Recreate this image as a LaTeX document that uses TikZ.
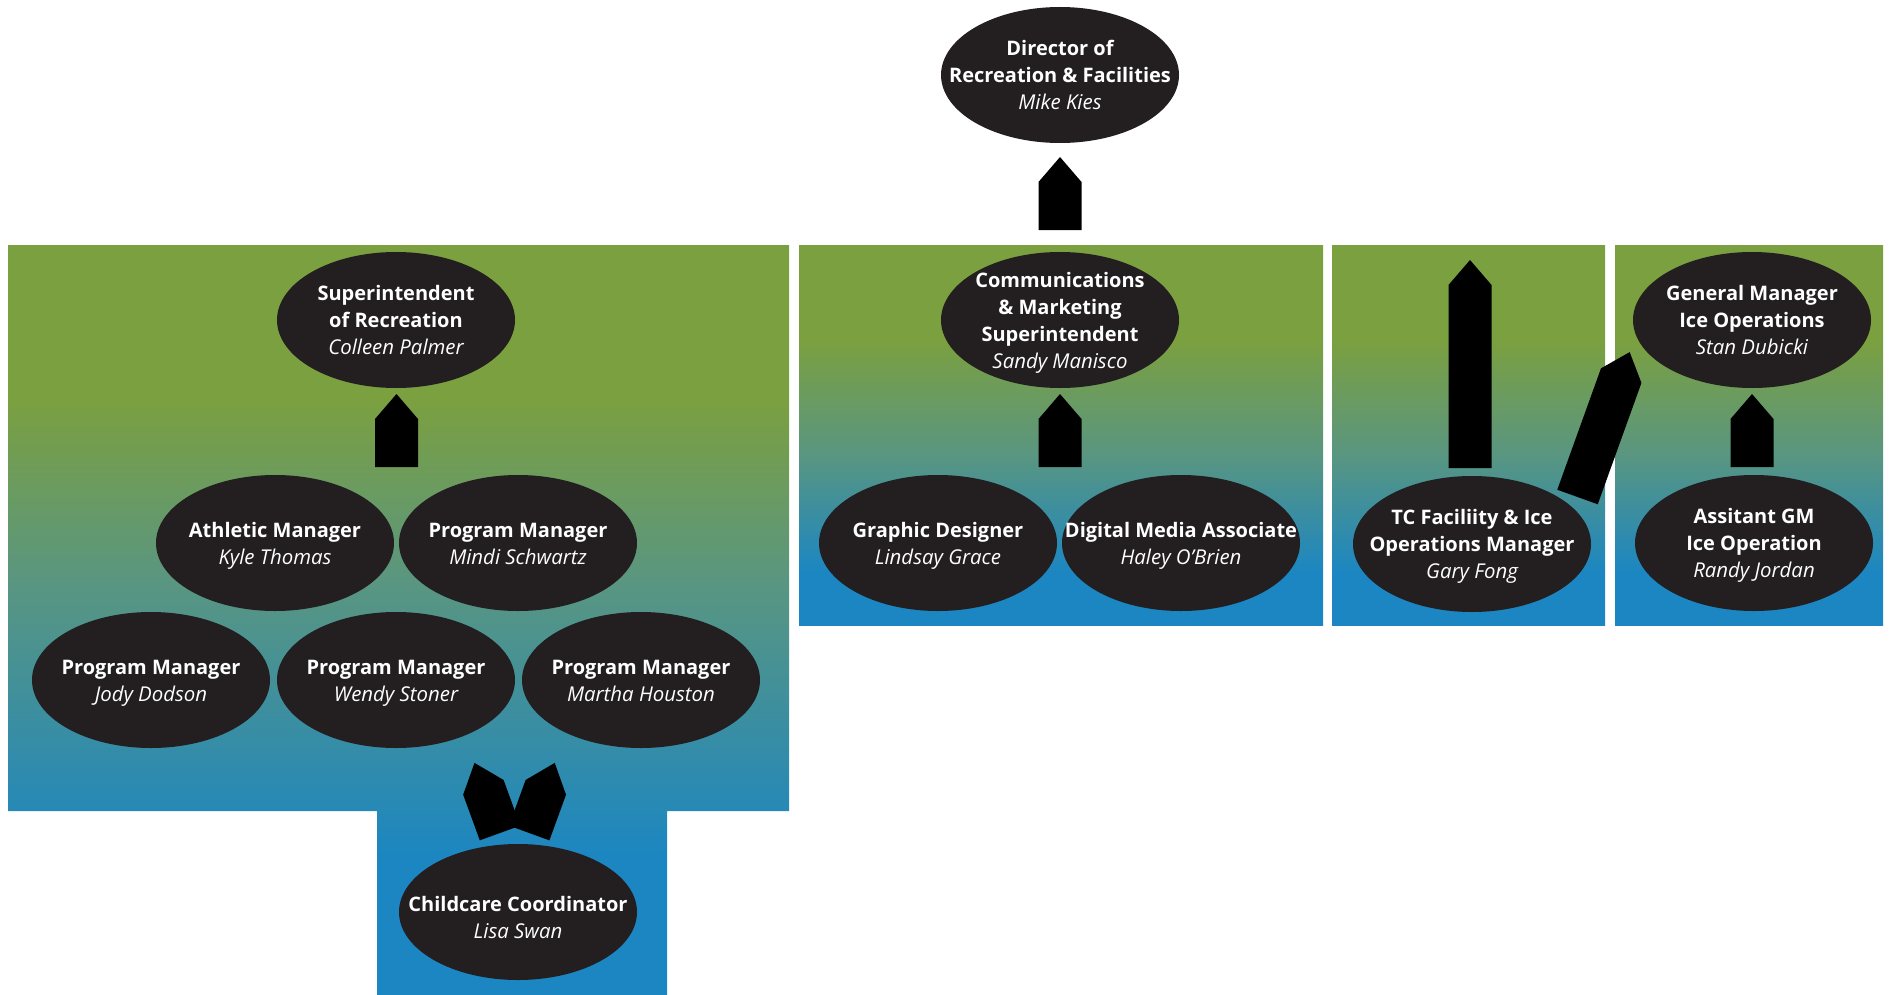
\documentclass[tikz,border=0pt]{standalone}
\usepackage{fontspec}
\setmainfont{Open Sans}
\usetikzlibrary{shapes.geometric}

\definecolor{topgreen}{HTML}{7BA03F}
\definecolor{midteal}{HTML}{5A9680}
\definecolor{lowblue}{HTML}{1B86C2}
\definecolor{ovalfill}{HTML}{231F20}

% panel backgrounds: green at the top fading through teal into blue
\pgfdeclareverticalshading{panelshade}{100bp}{color(0bp)=(lowblue); color(31.8bp)=(lowblue); color(47.6bp)=(midteal); color(62.5bp)=(topgreen); color(100bp)=(topgreen)}
\pgfdeclareverticalshading{wideshade}{100bp}{color(0bp)=(lowblue); color(34bp)=(lowblue); color(52.7bp)=(midteal); color(64.8bp)=(topgreen); color(100bp)=(topgreen)}

\newcommand\pname[1]{{\fontsize{10.2pt}{13.5pt}\selectfont\mdseries\itshape #1}}

\tikzset{
  person/.style={ellipse, fill=ovalfill, minimum width=119pt, minimum height=68pt, inner sep=0pt},
  txt/.style={text=white, align=center, inner sep=0pt, yshift=-1.35pt,
    font=\fontsize{10pt}{13.5pt}\selectfont\bfseries},
  pics/blockarrow/.style 2 args={code={
    \fill[black] (-21.5,0) -- (-21.5,-#1) -- (0,{-#1-#2}) -- (21.5,-#1) -- (21.5,0) -- cycle;}}
}

% an oval with a title (bold) and a person's name (italic) on its last line
\newcommand\staff[4][]{%
  \node[person] (#2) at (#3) {};
  \node[txt,#1] at (#2.center) {\vphantom{Ad}#4\vphantom{Jy}};}

\begin{document}
\begin{tikzpicture}[x=0.5pt,y=-0.5pt]
\useasboundingbox (0,0) rectangle (1889,995);

% background panels
\shade[shading=wideshade] (8,245) -- (789,245) -- (789,811) -- (667,811) -- (667,995)
  -- (377,995) -- (377,811) -- (8,811) -- cycle;
\shade[shading=panelshade] (799,245) rectangle (1323,625);
\shade[shading=panelshade] (1332,245) rectangle (1605,625);
\shade[shading=panelshade] (1615,245) rectangle (1883,625);

% people
\staff{dir}{1060,75}{Director of\\Recreation \& Facilities\\\pname{Mike Kies}}
\staff{supr}{396,320}{Superintendent\\of Recreation\\\pname{Colleen Palmer}}
\staff{athl}{275,543}{Athletic Manager\\\pname{Kyle Thomas}}
\staff{pmmindi}{518,543}{Program Manager\\\pname{Mindi Schwartz}}
\staff{pmjody}{151,680}{Program Manager\\\pname{Jody Dodson}}
\staff{pmwendy}{396,680}{Program Manager\\\pname{Wendy Stoner}}
\staff{pmmartha}{641,680}{Program Manager\\\pname{Martha Houston}}
\staff[yshift=-2.75pt]{child}{518,912}{Childcare Coordinator\\\pname{Lisa Swan}}
\staff{comm}{1060,320}{Communications\\\& Marketing\\Superintendent\\\pname{Sandy Manisco}}
\staff{graphic}{938,543}{Graphic Designer\\\pname{Lindsay Grace}}
\staff{digital}{1181,543}{Digital Media Associate\\\pname{Haley O’Brien}}
\staff{tc}{1472,544}{TC Faciliity \& Ice\\Operations Manager\\\pname{Gary Fong}}
\staff{gm}{1752,320}{General Manager\\Ice Operations\\\pname{Stan Dubicki}}
\staff{agm}{1754,543}{Assitant GM\\Ice Operation\\\pname{Randy Jordan}}

% block arrows between the ovals
\coordinate (a-dir) at (1060,230);
\coordinate (a-supr) at (396.5,467);
\coordinate (a-comm) at (1060,467);
\coordinate (a-gm) at (1752,467);
\coordinate (a-tc) at (1470,468);
\coordinate (a-slant) at (1577.5,497);
\coordinate (a-cl) at (500,833);
\coordinate (a-cr) at (529.2,833);

\pic at (a-dir) {blockarrow={48}{25}};
\pic at (a-supr) {blockarrow={48}{25}};
\pic at (a-comm) {blockarrow={48}{25}};
\pic at (a-gm) {blockarrow={48}{25}};
\pic at (a-tc) {blockarrow={183}{25}};
\pic[rotate=-19.8] at (a-slant) {blockarrow={129}{25}};
\pic[rotate=20] at (a-cl) {blockarrow={48.6}{26}};
\pic[rotate=-20] at (a-cr) {blockarrow={48.6}{26}};
\end{tikzpicture}
\end{document}
